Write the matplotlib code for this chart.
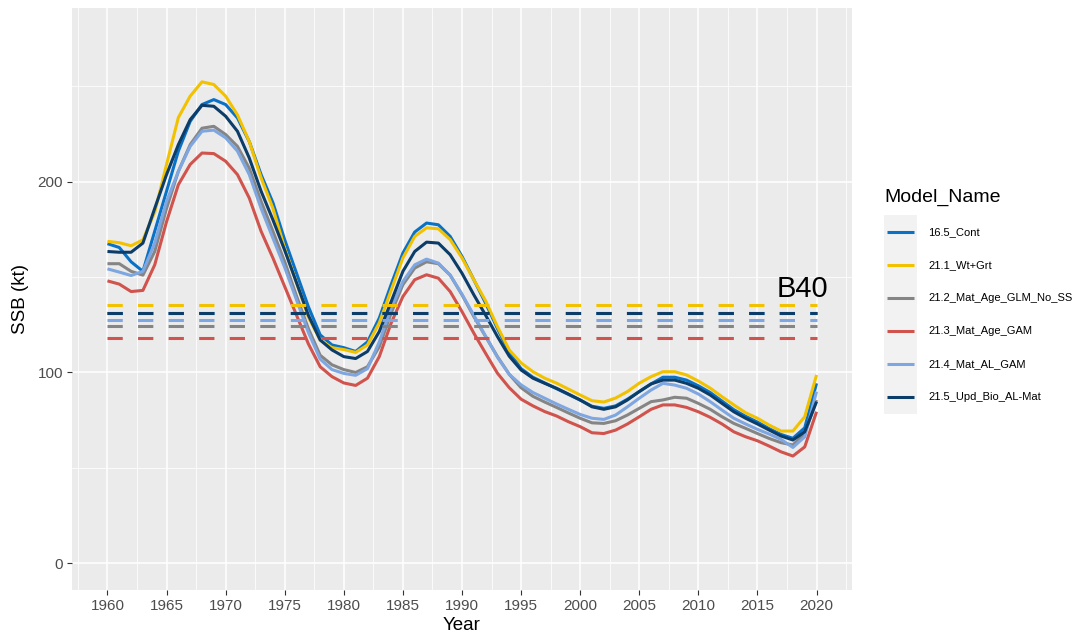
import matplotlib
matplotlib.use("Agg")
import matplotlib.pyplot as plt
from matplotlib.lines import Line2D
from matplotlib.patches import Rectangle
import numpy as np

plt.rcParams['font.family'] = ['Liberation Sans', 'DejaVu Sans']

years = np.arange(1960, 2021)

model_names = ["16.5_Cont", "21.1_Wt+Grt", "21.2_Mat_Age_GLM_No_SS",
               "21.3_Mat_Age_GAM", "21.4_Mat_AL_GAM", "21.5_Upd_Bio_AL-Mat"]
model_colors = ["#0A72C6", "#F2C200", "#858585", "#D0534D", "#7EA6E0", "#0C3C68"]

ssb_16_5 = [167.5, 165.5, 158, 153, 174, 195, 216, 231.6, 240.4, 243, 240.4, 233.4,
            221, 203.7, 189, 169.5, 152, 134.5, 119.7, 114.4, 113, 111, 116, 128.5,
            146, 162.6, 173.6, 178.3, 177.4, 171.3, 160.8, 148.6, 136.3, 123, 110.5,
            102, 97.5, 94.5, 91.5, 88.5, 85.5, 82.3, 81.2, 82.5, 86, 90, 94, 97.5,
            97.5, 96, 93, 89.5, 85, 80.5, 77, 74, 70.5, 67.5, 65.5, 71, 94.3]
ssb_21_1 = [168.7, 168, 166.4, 169.5, 184, 209, 233.6, 244.8, 252.3, 250.9, 244.8, 235,
            221, 202, 186, 165, 147, 129, 117, 113, 112, 110.5, 114.4, 126, 143, 160,
            171.3, 175.8, 175.3, 169.6, 160, 148.6, 137.5, 124, 111.8, 105, 100.4, 97,
            94.4, 91.3, 88.2, 85.2, 84.5, 86.6, 90, 94.4, 97.8, 100.4, 100.4, 98.7,
            95.5, 91.8, 87.3, 83, 78.9, 76, 72.4, 69.3, 69.3, 76.8, 98.7]
ssb_21_2 = [157, 157, 153, 151, 163.4, 186, 205.4, 219.4, 228, 229, 224.7, 218.5, 207,
            189.7, 174, 158, 140, 123, 109, 104, 101.5, 100, 103, 113.5, 131, 146,
            154.7, 158, 157, 151, 140.7, 129.3, 118.8, 108.3, 99, 92, 87.5, 84.5, 81.7,
            78.8, 76, 73.6, 73.3, 74.7, 77.7, 81.2, 84.7, 85.6, 87, 86.5, 83.8, 80.7,
            76.8, 73.3, 70.7, 68, 65.4, 63.2, 62, 68, 85.6]
ssb_21_3 = [148, 146.3, 142.4, 143, 156.4, 179, 198.4, 209, 215, 214.7, 210.7, 203.7,
            191.4, 174, 160, 145, 130, 115, 103, 97.8, 94.5, 93.2, 97, 108.3, 125.8,
            139.8, 148.6, 151.2, 149.4, 142.4, 131.9, 120.6, 110, 99.6, 92, 86, 82.5,
            79.5, 77.2, 74.2, 71.6, 68.4, 68, 69.8, 73, 76.8, 80.7, 83, 83, 81.7, 79.4,
            76.5, 73, 68.9, 66.3, 64.2, 61.4, 58.4, 56.2, 61, 79.4]
ssb_21_4 = [154.3, 152.6, 150.8, 153, 167.8, 189.7, 205.4, 218.5, 226.4, 227, 223, 216,
            203.7, 186, 170.4, 155, 138, 121, 107, 101.5, 99.5, 98.5, 102, 116, 133.7,
            147.7, 156.4, 159.4, 157.3, 151, 141, 130, 119, 108, 99, 93.5, 89.5, 86.5,
            83.5, 80.7, 78, 76, 75.4, 77.7, 82, 86.5, 90.8, 94.3, 93.4, 91.7, 88.7,
            84.7, 80.3, 76, 73, 70.2, 67.7, 64.9, 60.7, 66.3, 90]
ssb_21_5 = [163.4, 163, 163, 167.8, 186, 203.7, 219.4, 232.5, 240, 239.5, 234.3, 226.4,
            212.4, 195, 180, 164, 147, 130, 117, 111.8, 108.3, 107.3, 111, 121.4, 137,
            153, 163.4, 168.3, 167.8, 161.7, 152, 140.7, 130, 118.8, 108.5, 101.3, 97,
            94.3, 91.7, 88.7, 85.6, 82, 80.7, 82, 85.6, 90, 94, 96, 96, 94.3, 91.7,
            88.2, 83.8, 79.4, 76, 73, 69.8, 66.7, 64.6, 68.9, 84.7]

# B40 reference points for each model
b40 = [131.0, 135.4, 124.4, 118.1, 127.6, 131.2]

ssb_series = [ssb_16_5, ssb_21_1, ssb_21_2, ssb_21_3, ssb_21_4, ssb_21_5]

fig = plt.figure(figsize=(10.79, 6.39), dpi=100)
W, H = 1079, 639
ax = fig.add_axes([72 / W, 1 - 590 / H, (852 - 72) / W, (590 - 8) / H])

ax.set_facecolor("#EBEBEB")
for s in ax.spines.values():
    s.set_visible(False)

ax.set_xlim(1957, 2023)
ax.set_ylim(-14, 291)
ax.set_xticks(np.arange(1960, 2021, 5))
ax.set_yticks([0, 100, 200])
ax.set_xticks(np.arange(1957.5, 2023, 5), minor=True)
ax.set_yticks([50, 150, 250], minor=True)
ax.grid(which="major", color="white", linewidth=1.1)
ax.grid(which="minor", color="white", linewidth=0.55)
ax.set_axisbelow(True)
ax.tick_params(which="major", length=3.5, width=0.8, color="#333333",
               labelcolor="#4D4D4D", labelsize=11, pad=3)
ax.tick_params(which="minor", length=0)

lw = 2.2
for name, col, vals in zip(model_names, model_colors, ssb_series):
    ax.plot(years, vals, color=col, linewidth=lw, solid_capstyle="butt",
            solid_joinstyle="round")
for col, ref in zip(model_colors, b40):
    ax.plot([years[0], years[-1]], [ref, ref], color=col, linewidth=lw,
            linestyle=(0, (5, 5)), dash_capstyle="butt")

ax.text(2018.8, 144, "B40", fontsize=21, color="black", ha="center", va="center")

ax.set_xlabel("Year", fontsize=13.5, color="black", labelpad=3)
ax.set_ylabel("SSB (kt)", fontsize=13.5, color="black", labelpad=6)

# Legend
fig.text(884 / W, 1 - 197 / H, "Model_Name", fontsize=14, color="black",
         ha="left", va="center")
fig.add_artist(Rectangle((884 / W, 1 - 414 / H), 33 / W, 199 / H,
                         transform=fig.transFigure, facecolor="#F2F2F2",
                         edgecolor="none"))
for i, (name, col) in enumerate(zip(model_names, model_colors)):
    yk = 1 - (232 + 33 * i) / H
    fig.add_artist(Line2D([887 / W, 914 / W], [yk, yk], color=col,
                          linewidth=lw, solid_capstyle="butt",
                          transform=fig.transFigure))
    fig.text(928 / W, yk, name, fontsize=8, color="black", ha="left",
             va="center")

fig.savefig("out.png", dpi=100)
